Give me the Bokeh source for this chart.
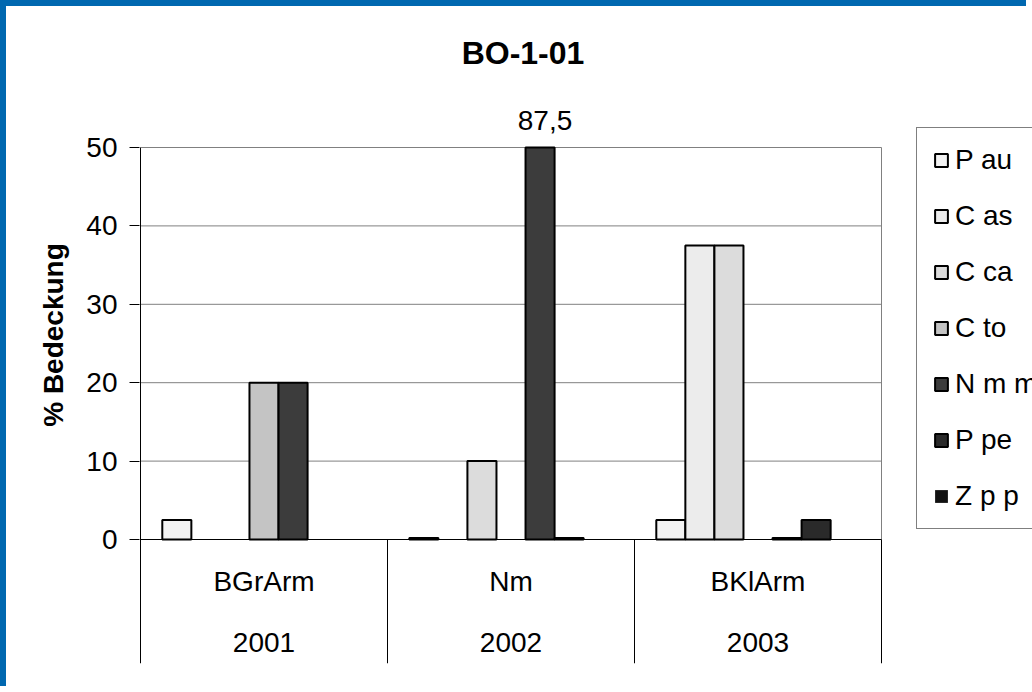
from bokeh.plotting import figure
from bokeh.models import (Range1d, ColumnDataSource, LabelSet, Label, Legend, LegendItem,
                          FixedTicker)
from bokeh.embed import file_html
from bokeh.resources import INLINE
from bokeh.core.properties import value

# ---------------- data ----------------
chart_title = "BO-1-01"
y_title = "% Bedeckung"
sites = ["BGrArm", "Nm", "BKlArm"]
years = ["2001", "2002", "2003"]
series = ["P au", "C as", "C ca", "C to", "N m m", "P pe", "Z p p"]
p_au = [2.5, 0.2, 2.5]
c_as = [0, 0, 37.5]
c_ca = [0, 10, 37.5]
c_to = [20, 0, 0]
n_m_m = [20, 87.5, 0.2]
p_pe = [0, 0.2, 2.5]
z_p_p = [0, 0, 0]
y_ticks = [0, 10, 20, 30, 40, 50]

# ---------------- layout (pixels) ----------------
W, H = 1026, 686                 # canvas (page has a 6px blue frame left/top)
PLOT_L, PLOT_R = 134, 875        # value-plot area (x)
PLOT_T, PLOT_B = 141, 533        # value-plot area (y)
BAND_B = 657                     # bottom of the category band
FRAME_L = PLOT_L - 1             # frame starts 1px left so the axis line is visible
FRAME_B = BAND_B

values = [p_au, c_as, c_ca, c_to, n_m_m, p_pe, z_p_p]
fills = ["#f3f3f3", "#ececec", "#dcdcdc", "#c4c4c4", "#3c3c3c", "#2a2a2a", "#111111"]
FONT = "Liberation Sans"
n_groups = len(sites)
n_series = len(series)
y_max = y_ticks[-1]
gap = 1.5
bar_w = 1.0 / (n_series + gap)

ppx = (PLOT_R - PLOT_L) / n_groups
ppy = (PLOT_B - PLOT_T) / y_max
x_lo = -(PLOT_L - FRAME_L) / ppx
x_hi = n_groups + (W - PLOT_R) / ppx
y_lo = -(BAND_B - PLOT_B) / ppy
y_hi = y_max + PLOT_T / ppy

p = figure(width=W, height=H, title=None,
           x_range=Range1d(x_lo, x_hi), y_range=Range1d(y_lo, y_hi),
           output_backend="svg", toolbar_location=None, x_axis_location=None,
           min_border_left=FRAME_L, min_border_right=0,
           min_border_top=0, min_border_bottom=H - FRAME_B)
p.styles = {"border-left": "6px solid #0068b0", "border-top": "6px solid #0068b0"}
p.background_fill_color = "white"
p.border_fill_color = "white"
p.outline_line_color = None
p.xgrid.visible = False
p.ygrid.visible = False

# gridlines (gray) and plot-area right border
grid_y = [t for t in y_ticks if t > 0]
p.segment(x0=[0] * len(grid_y), x1=[n_groups] * len(grid_y), y0=grid_y, y1=grid_y,
          line_color="#808080", line_width=1)
p.segment(x0=[n_groups], x1=[n_groups], y0=[0], y1=[y_max], line_color="#808080", line_width=1)

# bars (values above the axis maximum are cut at the top, as in the original;
# zero values get no visible mark)
items = []
for j, (name, vals, col) in enumerate(zip(series, values, fills)):
    xs = [i + (gap / 2 + j + 0.5) * bar_w for i in range(len(vals))]
    tops = [min(v, y_max) for v in vals]
    alphas = [1.0 if v > 0 else 0.0 for v in vals]
    src = ColumnDataSource(dict(x=xs, top=tops, a=alphas))
    r = p.vbar(x="x", top="top", width=bar_w, source=src,
               fill_color=col, line_color="black", line_width=2, line_alpha="a")
    first_nonzero = next((i for i, v in enumerate(vals) if v > 0), 0)
    items.append(LegendItem(label=name, renderers=[r], index=first_nonzero))

# axis lines and category separators (black)
p.segment(x0=[0], x1=[n_groups], y0=[0], y1=[0], line_color="black", line_width=1)
p.segment(x0=[0], x1=[0], y0=[y_lo], y1=[y_max], line_color="black", line_width=1)
sep_x = list(range(1, n_groups + 1))
p.segment(x0=sep_x, x1=sep_x, y0=[y_lo] * len(sep_x), y1=[0] * len(sep_x),
          line_color="black", line_width=1)

# labels for bars exceeding the axis maximum
over_x, over_y, over_t = [], [], []
for j, vals in enumerate(values):
    for i, v in enumerate(vals):
        if v > y_max:
            over_x.append(i + (gap / 2 + j + 0.5) * bar_w)
            over_y.append(y_max)
            over_t.append(f"{v:g}".replace(".", ","))
p.add_layout(LabelSet(x="x", y="y", text="text",
                      source=ColumnDataSource(dict(x=over_x, y=over_y, text=over_t)),
                      x_offset=5, y_offset=27, text_align="center", text_baseline="middle",
                      text_font=value(FONT), text_font_size="28px", text_color="black"))

# two-level category labels
cat_src = ColumnDataSource(dict(x=[i + 0.5 for i in range(n_groups)], y=[0] * n_groups,
                                site=sites, year=years))
p.add_layout(LabelSet(x="x", y="y", text="site", source=cat_src, y_offset=-42,
                      text_align="center", text_baseline="middle",
                      text_font=value(FONT), text_font_size="28px", text_color="black"))
p.add_layout(LabelSet(x="x", y="y", text="year", source=cat_src, y_offset=-103,
                      text_align="center", text_baseline="middle",
                      text_font=value(FONT), text_font_size="28px", text_color="black"))

# title
p.add_layout(Label(x=n_groups / 2, y=y_max, x_offset=12, y_offset=95, text=chart_title,
                   text_align="center", text_baseline="middle",
                   text_font=FONT, text_font_size="32px", text_font_style="bold",
                   text_color="black"))

# y axis
p.yaxis.ticker = FixedTicker(ticks=y_ticks)
p.yaxis.major_tick_out = 10
p.yaxis.major_tick_in = 0
p.yaxis.minor_tick_out = 0
p.yaxis.minor_tick_in = 0
p.yaxis.major_tick_line_color = "black"
p.yaxis.axis_line_color = None
p.yaxis.major_label_text_font = FONT
p.yaxis.major_label_text_font_size = "28px"
p.yaxis.major_label_text_color = "black"
p.yaxis.major_label_standoff = 12
p.yaxis.axis_label = y_title
p.yaxis.axis_label_text_font = FONT
p.yaxis.axis_label_text_font_size = "28px"
p.yaxis.axis_label_text_font_style = "bold"
p.yaxis.axis_label_text_color = "black"
p.yaxis.axis_label_standoff = 14

legend = Legend(items=items, location=(777, 134), orientation="vertical",
                label_text_font=FONT, label_text_font_size="28px", label_text_color="black",
                label_height=32, glyph_height=16, glyph_width=16, label_standoff=6,
                spacing=24, padding=16, margin=0,
                border_line_color="black", border_line_width=1,
                background_fill_color="white", background_fill_alpha=1)
p.add_layout(legend)

open("out.html", "w").write(file_html(p, INLINE))
